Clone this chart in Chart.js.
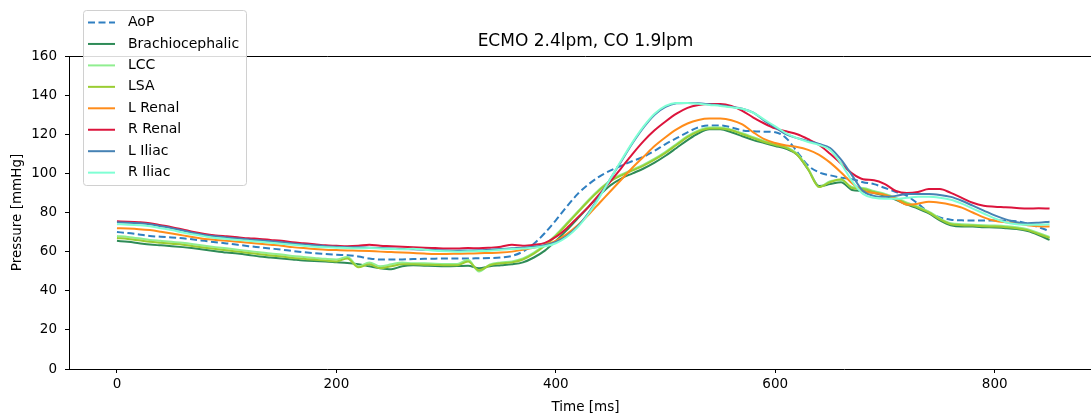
<!DOCTYPE html>
<html>
<head>
<meta charset="utf-8">
<script src="https://cdn.jsdelivr.net/npm/chart.js@4.4.1/dist/chart.umd.min.js"></script>
<style>
  html, body { margin: 0; padding: 0; background: #fff; overflow: hidden; }
  #wrap { width: 1110px; height: 416px; }
</style>
</head>
<body>
<div id="wrap"><canvas id="chart" width="1110" height="416"></canvas></div>
<script>
// time axis (ms), shared by all traces
const timeMs = [0,10,20,30,40,50,60,70,80,90,100,110,120,130,140,150,160,170,180,190,
  200,210,220,230,240,250,260,270,280,290,300,310,320,330,340,350,360,370,380,390,
  400,410,420,430,440,450,460,470,480,490,500,510,520,530,540,550,560,570,580,590,
  600,610,620,630,640,650,660,670,680,690,700,710,720,730,740,750,760,770,780,790,
  800,810,820,830,840,850];

const aop = [70,69.5,68.8,68,67.6,67.2,66.8,66.2,65.5,64.8,64.2,63.5,62.8,62.2,61.6,61,60.3,59.7,59.2,58.8,
  58.4,58.2,57.5,56.5,56,56,56,56.2,56.3,56.4,56.5,56.5,56.5,56.6,56.7,57,57.8,60,64,69.5,
  76,83,89.5,94.5,98.5,101.5,104,106.3,108.5,111.5,115,118,121,123.5,124.5,124.5,123.5,122,121.5,121.3,
  121,118,111,104,100.5,99,97.8,97,95.5,94.5,92.5,90.5,88.5,84.5,80,77.5,76.3,76,75.9,75.9,
  75.9,75.8,75.5,74.3,72.5,70.5];

const brachio = [65.5,65,64.3,63.6,63.2,62.8,62.3,61.7,61,60.2,59.5,59,58.3,57.5,57,56.5,56,55.5,55.2,55,
  54.6,54.2,53.5,52.5,51.5,51,52.5,53,52.8,52.6,52.5,52.6,52.8,51.5,52.5,53,53.5,54.5,57,60.5,
  65.5,71,77,83,89,94,97.5,100,102.5,105.5,109,113,117,120.5,122.5,122.5,121,119,117,115.5,
  114,112.5,109.5,102,93.5,94.5,95.5,91.5,91,90,88.5,86.5,84,82,79.5,76,73.5,72.8,72.8,72.5,
  72.3,72,71.5,70.5,68.5,66];

const lcc = [68,67.5,66.8,66,65.5,65,64.5,63.8,63,62.3,61.7,61,60.3,59.7,59,58.5,57.8,57.3,56.8,56.3,
  56,57.3,52.5,54.5,52.5,53.5,54.5,54,54,53.8,53.7,53.7,55.8,49.8,53.5,54.5,55,56.5,59.5,63.5,
  68.5,74.5,80.5,86.5,92,96.5,99.5,102,104.5,107.5,111,115,119,122,123.5,123.5,122.3,120.5,118.5,116.5,
  115,113.5,110,102.5,93,96,96.5,93,92.5,91,89.5,87.5,85,83,80.5,77,74.5,74,73.8,73.5,
  73.3,73,72.5,71.5,69.5,67.5];

const lsa = [67,66.5,65.8,65,64.5,64,63.5,62.8,62,61.3,60.7,60,59.3,58.7,58,57.5,56.8,56.3,55.8,55.4,
  55,56.5,52,53.5,51.5,52.5,53.5,53.5,53.3,53.2,53,53,55,50.5,53,54,54.5,56,59,63,
  68,74,80,86,91.5,96,99,101.5,104,107,110.5,114.5,118.5,121.5,123,123,122,120,118,116,
  114.5,113,109.5,102,93,95.5,97,92.5,92,90.5,89,87,84.5,82.5,80,76.5,74,73.5,73.3,73,
  72.8,72.5,72,71,69,67];

const lRenal = [72,71.8,71.5,71,70.2,69.3,68.3,67.3,66.5,66,65.5,65,64.5,64,63.5,63,62.3,61.8,61.4,61,
  60.8,60.6,60.5,60.3,60,59.8,59.6,59.3,59,58.8,58.8,58.9,59,59.2,59.3,59.5,60,61,62,63.3,
  65.5,69,73.5,79,85,91,97,103,108.5,114,118.5,122.5,125.5,127.3,128,128,127.2,125,121,117.5,
  115.5,114.2,113.5,112,109.5,105.5,100.5,95,91,90,89,87,84,84.5,85.5,85,84,82.5,80,77.5,
  75.8,75,74.5,73.5,73,72.8];

const rRenal = [75.5,75.3,75,74.5,73.5,72.5,71.3,70,69,68.3,67.8,67.3,66.8,66.5,66,65.5,64.8,64.3,63.8,63.2,
  63,62.8,63,63.5,63,62.8,62.5,62.3,62,61.8,61.6,61.6,61.8,61.7,62,62.5,63.5,63,63.5,64.5,
  67.5,72,77.5,83,89.5,96,103,110,116.5,122,126.5,130.5,133.5,135,135.5,135.5,134.5,132,128.5,125.5,
  123,121.5,120,117.5,114.5,110,105,100,97,96.5,94.5,91,90,90.5,92,92,90,87.5,85,83.5,
  83,82.7,82.3,82,82.2,82];

const lIliac = [75,74.8,74.5,74,73,72,70.8,69.5,68.5,67.8,67.2,66.7,66.2,65.8,65.3,64.8,64.2,63.7,63.3,62.8,
  62.5,62.3,62.2,62,61.8,61.6,61.4,61.2,61,60.8,60.6,60.5,60.6,60.7,61,61.3,61.7,62,62.5,63.3,
  65,68,73,80,88.5,97.5,106.5,115.5,123.5,130,134,135.8,136,135.8,135.3,134.8,134,133,131,127,
  123.5,120,118,116.5,115,113,107,99,91,88.5,88,88.5,89.5,89.5,89.5,89,88,86,83.5,81,
  78.5,76.5,75,74.5,74.8,75.3];

const rIliac = [74,73.8,73.5,73,72,71,69.8,68.7,67.8,67,66.5,66,65.5,65,64.5,64,63.5,63,62.5,62.2,
  62,61.8,61.7,61.8,61.6,61.4,61.2,61.5,61,60.5,60.2,60,60.2,60.3,60.5,61,61.3,61.6,62,62.7,
  64.3,67.5,72.5,79.5,88,97.5,107,116,124,130.5,134.5,136,136,135.6,135,134.5,133.8,133,131,127.5,
  124,120.5,118,116,114.5,112,105,96,89.5,87.5,87,87,87.5,88,88,87.5,86.5,84.5,82,79.5,
  77,75,74,73.8,73.8,74];

const seriesNames = ['AoP', 'Brachiocephalic', 'LCC', 'LSA', 'L Renal', 'R Renal', 'L Iliac', 'R Iliac'];
const seriesValues = [aop, brachio, lcc, lsa, lRenal, rRenal, lIliac, rIliac];
const seriesColors = ['#2f7fc1', '#2e8b57', '#90ee90', '#9acd32', '#ff8c1a', '#dc143c', '#4682b4', '#7fffd4'];

const xTicks = [0, 200, 400, 600, 800];
const yTicks = [0, 20, 40, 60, 80, 100, 120, 140, 160];
const titleText = 'ECMO 2.4lpm, CO 1.9lpm';
const xLabel = 'Time [ms]';
const yLabel = 'Pressure [mmHg]';

const FONT = '"DejaVu Sans", sans-serif';

const datasets = seriesNames.map((name, i) => ({
  label: name,
  data: timeMs.map((t, k) => ({ x: t, y: seriesValues[i][k] })),
  borderColor: seriesColors[i],
  borderWidth: 2,
  borderDash: i === 0 ? [7, 3.5] : [],
  pointRadius: 0,
  fill: false,
  cubicInterpolationMode: 'monotone'
}));
// matplotlib draws the first line at the bottom; Chart.js draws dataset 0 on top, so flip order
datasets.forEach((d, i) => { d.order = datasets.length - i; });

// title, axis labels, top spine and legend box
const decorPlugin = {
  id: 'decor',
  beforeDraw(chart) {
    const ctx = chart.ctx;
    ctx.save();
    ctx.fillStyle = '#fff';
    ctx.fillRect(0, 0, chart.width, chart.height);
    ctx.restore();
  },
  afterDraw(chart) {
    const ctx = chart.ctx;
    const a = chart.chartArea;
    ctx.save();

    // top + right spines
    ctx.strokeStyle = '#000';
    ctx.lineWidth = 1;
    ctx.beginPath();
    ctx.moveTo(a.left, a.top + 0.5);
    ctx.lineTo(a.right, a.top + 0.5);
    ctx.moveTo(a.right + 0.5, a.top);
    ctx.lineTo(a.right + 0.5, a.bottom);
    ctx.stroke();

    // title
    ctx.fillStyle = '#000';
    ctx.textAlign = 'center';
    ctx.textBaseline = 'middle';
    ctx.font = '17px ' + FONT;
    ctx.fillText(titleText, (a.left + a.right) / 2, 42);

    // axis labels
    ctx.font = '13.5px ' + FONT;
    ctx.fillText(xLabel, (a.left + a.right) / 2, 407);
    ctx.save();
    ctx.translate(17, (a.top + a.bottom) / 2);
    ctx.rotate(-Math.PI / 2);
    ctx.fillText(yLabel, 0, 0);
    ctx.restore();

    // legend
    const lx = 83.5, ly = 10.5, lw = 163, lh = 175, r = 3;
    ctx.beginPath();
    ctx.moveTo(lx + r, ly);
    ctx.lineTo(lx + lw - r, ly);
    ctx.arcTo(lx + lw, ly, lx + lw, ly + r, r);
    ctx.lineTo(lx + lw, ly + lh - r);
    ctx.arcTo(lx + lw, ly + lh, lx + lw - r, ly + lh, r);
    ctx.lineTo(lx + r, ly + lh);
    ctx.arcTo(lx, ly + lh, lx, ly + lh - r, r);
    ctx.lineTo(lx, ly + r);
    ctx.arcTo(lx, ly, lx + r, ly, r);
    ctx.closePath();
    ctx.fillStyle = 'rgba(255,255,255,0.85)';
    ctx.fill();
    ctx.strokeStyle = '#d0d0d0';
    ctx.stroke();

    ctx.textAlign = 'left';
    ctx.font = '14px ' + FONT;
    chart.data.datasets.forEach((ds, i) => {
      const y = 22.5 + i * 21.45;
      ctx.strokeStyle = ds.borderColor;
      ctx.lineWidth = 2;
      ctx.setLineDash(ds.borderDash);
      ctx.beginPath();
      ctx.moveTo(88, y);
      ctx.lineTo(115, y);
      ctx.stroke();
      ctx.setLineDash([]);
      ctx.fillStyle = '#000';
      ctx.fillText(ds.label, 128, y);
    });

    ctx.restore();
  }
};

new Chart(document.getElementById('chart'), {
  type: 'line',
  data: { datasets: datasets },
  options: {
    responsive: false,
    animation: false,
    layout: { padding: { left: 0, right: 8, top: 56, bottom: 0 } },
    plugins: {
      legend: { display: false },
      title: { display: false },
      tooltip: { enabled: false }
    },
    scales: {
      x: {
        type: 'linear',
        min: -43.7,
        max: 897.8,
        afterFit: s => { s.height = 47; },
        afterBuildTicks: s => { s.ticks = xTicks.map(v => ({ value: v })); },
        grid: { drawOnChartArea: false, drawTicks: true, tickLength: 4, color: '#000', lineWidth: 1 },
        border: { display: true, color: '#000', width: 1 },
        ticks: { color: '#000', font: { family: FONT, size: 13.5 }, padding: 3, maxRotation: 0 }
      },
      y: {
        min: 0,
        max: 160,
        afterFit: s => { s.width = 69; },
        afterBuildTicks: s => { s.ticks = yTicks.map(v => ({ value: v })); },
        grid: { drawOnChartArea: false, drawTicks: true, tickLength: 4, color: '#000', lineWidth: 1 },
        border: { display: true, color: '#000', width: 1 },
        ticks: { color: '#000', font: { family: FONT, size: 13.5 }, padding: 8 }
      }
    }
  },
  plugins: [decorPlugin]
});
</script>
</body>
</html>
